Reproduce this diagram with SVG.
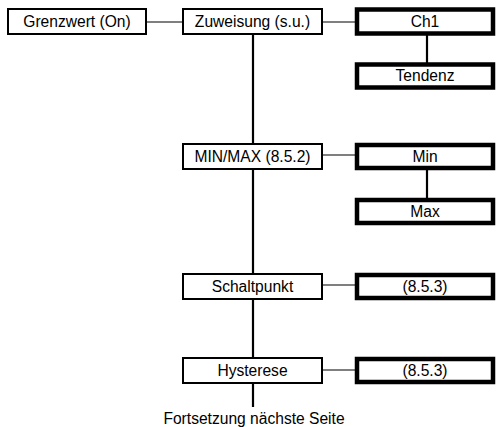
<svg xmlns="http://www.w3.org/2000/svg" width="497" height="427" viewBox="0 0 497 427">
  <style>
    .box { fill: #fff; stroke: #000; stroke-width: 2; }
    .bold { fill: #fff; stroke: #000; stroke-width: 4.5; }
    .lbl { font-family: "Liberation Sans", Arial, sans-serif; font-size: 15.6px; fill: #000; text-anchor: middle; }
    .h { stroke: #000; stroke-width: 1.2; fill: none; }
    .v { stroke: #000; stroke-width: 2.2; fill: none; }
  </style>
  <rect width="497" height="427" fill="#fff"/>

  <!-- connectors -->
  <g id="connectors">
    <line class="v" x1="253" y1="35" x2="253" y2="407"/>
    <line class="h" x1="147" y1="22" x2="182" y2="22"/>
    <line class="h" x1="322" y1="22" x2="355" y2="22"/>
    <line class="v" x1="427" y1="35" x2="427" y2="63"/>
    <line class="h" x1="322" y1="155" x2="355" y2="155"/>
    <line class="v" x1="427" y1="169" x2="427" y2="199"/>
    <line class="h" x1="322" y1="285" x2="355" y2="285"/>
    <line class="h" x1="322" y1="370" x2="355" y2="370"/>
  </g>

  <!-- left column -->
  <g id="grenzwert">
    <rect class="box" x="8" y="9" width="138" height="25"/>
    <text class="lbl" x="77" y="27">Grenzwert (On)</text>
  </g>

  <!-- middle column -->
  <g id="zuweisung">
    <rect class="box" x="183" y="9" width="139" height="25"/>
    <text class="lbl" x="252.5" y="27">Zuweisung (s.u.)</text>
  </g>
  <g id="minmax">
    <rect class="box" x="183" y="144" width="139" height="25"/>
    <text class="lbl" x="252.5" y="161.5">MIN/MAX (8.5.2)</text>
  </g>
  <g id="schaltpunkt">
    <rect class="box" x="183" y="274" width="139" height="25"/>
    <text class="lbl" x="252.5" y="291.5">Schaltpunkt</text>
  </g>
  <g id="hysterese">
    <rect class="box" x="183" y="358" width="139" height="25"/>
    <text class="lbl" x="252.5" y="375.5">Hysterese</text>
  </g>

  <!-- right column -->
  <g id="ch1">
    <rect class="bold" x="357" y="9.5" width="136" height="24"/>
    <text class="lbl" x="425" y="27">Ch1</text>
  </g>
  <g id="tendenz">
    <rect class="bold" x="357" y="64.5" width="136" height="23"/>
    <text class="lbl" x="425" y="81">Tendenz</text>
  </g>
  <g id="min">
    <rect class="bold" x="357" y="145" width="136" height="23"/>
    <text class="lbl" x="425" y="161.5">Min</text>
  </g>
  <g id="max">
    <rect class="bold" x="357" y="200" width="136" height="23"/>
    <text class="lbl" x="425" y="217">Max</text>
  </g>
  <g id="schaltpunkt-ref">
    <rect class="bold" x="357" y="275" width="136" height="23"/>
    <text class="lbl" x="425" y="291.5">(8.5.3)</text>
  </g>
  <g id="hysterese-ref">
    <rect class="bold" x="357" y="359" width="136" height="23"/>
    <text class="lbl" x="425" y="375.5">(8.5.3)</text>
  </g>

  <text class="lbl" x="254" y="424">Fortsetzung nächste Seite</text>
</svg>
